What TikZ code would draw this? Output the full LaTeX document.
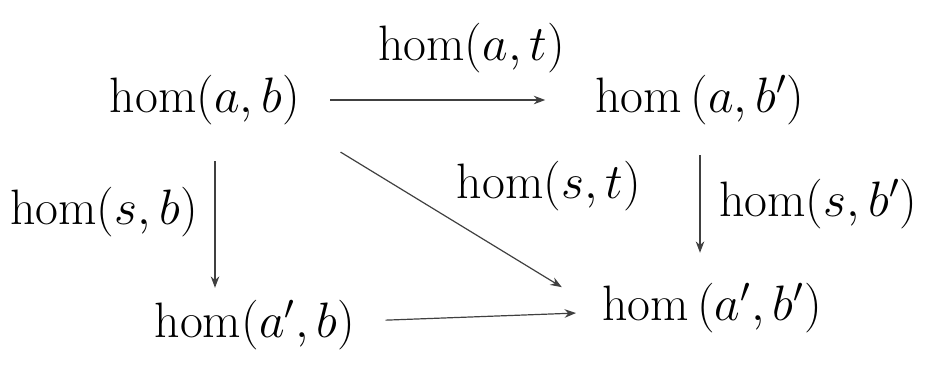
\documentclass[tikz,border=0pt]{standalone}
\usepackage{tikz}
\usetikzlibrary{positioning,arrows.meta}
\begin{document}
\begin{tikzpicture}[x=0.5pt,y=-0.5pt,>=Stealth,font=\fontsize{23}{27}\selectfont,
  obj/.style={inner sep=3pt}, map/.style={->,semithick,draw=black!75}]
  \useasboundingbox (0,0) rectangle (946,377);
  \node[obj](ab) at (205,100){$\mathrm{hom}(a,b)$};
  \node[obj](abp) at (700,100){$\mathrm{hom}\,(a,b')$};
  \node[obj](apb) at (255,325){$\mathrm{hom}(a',b)$};
  \node[obj](apbp) at (712,308){$\mathrm{hom}\,(a',b')$};
  \draw[map,shorten <=12pt,shorten >=22pt](ab)--(abp) node[midway,above=10pt,xshift=12pt]{$\mathrm{hom}(a,t)$};
  \draw[map,shorten <=20pt,shorten >=20pt](ab.south east)--(apbp.west) node[pos=0.55,above right=0pt and 2pt,xshift=-10pt,yshift=5pt]{$\mathrm{hom}(s,t)$};
  \draw[map,shorten <=15pt,shorten >=3pt]([xshift=5pt]ab.south)--([xshift=5pt]ab.south|-apb.north) node[midway,left=5pt]{$\mathrm{hom}(s,b)$};
  \draw[map,shorten <=12pt,shorten >=12pt](abp)--(abp|-apbp.north) node[midway,right=6pt]{$\mathrm{hom}(s,b')$};
  \draw[map,shorten <=12pt,shorten >=10pt](apb)--(apbp);
\end{tikzpicture}
\end{document}
